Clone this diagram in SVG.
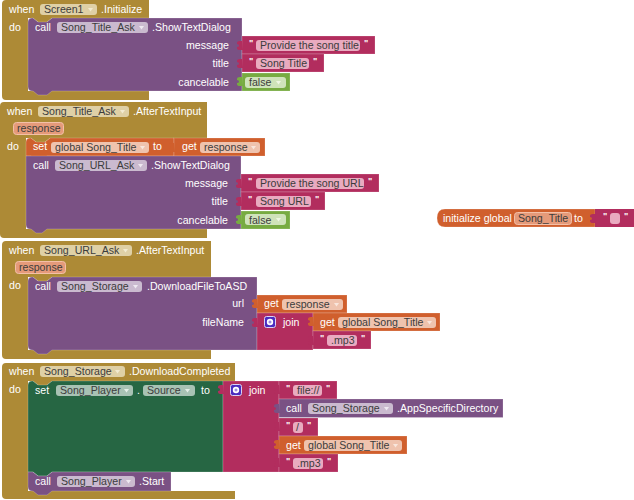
<svg xmlns="http://www.w3.org/2000/svg" width="634" height="500" viewBox="0 0 634 500">
<style>
text{font-family:"Liberation Sans",Arial,sans-serif;font-size:10.6px;fill:#fff}
.d{fill:#3c3c3c}
.g{fill:#ad8a36}.p{fill:#7a5184}.k{fill:#b22d5e}.o{fill:#d05f2d}.n{fill:#266643}.l{fill:#77ab41}
.b{stroke:#fff;stroke-opacity:.2;stroke-width:1}
.fg{fill:#dfd0a6}.fp{fill:#cabacf}.fk{fill:#e9abc0}.fo{fill:#efc3ae}.fn{fill:#a8c2b4}.fl{fill:#cfe3ba}
.fr{fill:#e59a7a;stroke:#f3c0a8;stroke-width:1}
.ag{fill:#f2ead0}.ap{fill:#eee8f0}.ao{fill:#f9e6dc}.an{fill:#e4eee8}.al{fill:#eef6e4}
.q{font-size:9px;font-weight:bold}
.r{text-anchor:end}
.ib{fill:#4a2cc0;stroke:#d9d2f5;stroke-width:1}
.ig{fill:#fff}
</style>
<defs>
<path id="tab" d="M0,0 L-2,0 Q-5,0 -5,2 L-5,3 Q-3,3 -3,4.500 Q-3,6 -5,6 L-5,7 Q-5,9 -2,9 L1,9 Z"/>
<path id="arrow" d="M0,0 H5 L2.500,3.500 Z"/>
<g id="mut"><rect class="ib" x="0.500" y="0.500" width="11" height="11" rx="2"/><circle class="ig" cx="6" cy="6" r="3.200"/><circle class="ib" cx="6" cy="6" r="1.300"/></g>
</defs>

<g id="event-screen1-initialize">
<path class="g" d="M2,4 Q2,0 6,0 H149 V18 H52 L47,22 H38 L33,18 H28 V91 H149 V100 H6 Q2,100 2,96 Z"/>
<text x="9" y="13">when</text>
<rect class="fg" x="40" y="4" width="57" height="11" rx="3"/><text class="d" x="44" y="13">Screen1</text><use href="#arrow" class="ag" x="88" y="8"/>
<text x="101" y="13">.Initialize</text>
<text x="9" y="31">do</text>
</g>
<g id="call-song-title-ask">
<path class="p b" d="M28,22 Q28,18 32,18 H33 L38,22 H47 L52,18 H242 V91 H52 L47,95 H38 L33,91 H32 Q28,91 28,87 Z"/>
<text x="35" y="31">call</text>
<rect class="fp" x="57" y="22" width="91" height="11" rx="3"/><text class="d" x="61" y="31">Song_Title_Ask</text><use href="#arrow" class="ap" x="139" y="26"/>
<text x="152" y="31">.ShowTextDialog</text>
<text class="r" x="229" y="49">message</text>
<text class="r" x="229" y="67">title</text>
<text class="r" x="229" y="86">cancelable</text>
</g>
<g id="text-provide-song-title">
<rect class="k b" x="242" y="36" width="133" height="18"/><use href="#tab" class="k" x="242" y="41"/>
<text class="q" x="249" y="46">"</text><rect class="fk" x="256" y="40" width="104" height="11" rx="3"/><text class="d" x="260" y="49">Provide the song title</text><text class="q" x="364" y="46">"</text>
</g>
<g id="text-song-title">
<rect class="k b" x="242" y="54" width="82" height="18"/><use href="#tab" class="k" x="242" y="59"/>
<text class="q" x="249" y="64">"</text><rect class="fk" x="256" y="58" width="53" height="11" rx="3"/><text class="d" x="260" y="67">Song Title</text><text class="q" x="313" y="64">"</text>
</g>
<g id="logic-false-1">
<rect class="l b" x="242" y="73" width="48" height="18"/><use href="#tab" class="l" x="242" y="77"/>
<rect class="fl" x="245" y="77" width="41" height="11" rx="3"/><text class="d" x="249" y="86">false</text><use href="#arrow" class="al" x="276" y="81"/>
</g>

<g id="event-song-title-ask-aftertextinput">
<path class="g" d="M0,106 Q0,102 4,102 H207 V138 H50 L45,142 H36 L31,138 H26 V229 H207 V238 H4 Q0,238 0,234 Z"/>
<text x="7" y="115">when</text>
<rect class="fg" x="38" y="106" width="91" height="11" rx="3"/><text class="d" x="42" y="115">Song_Title_Ask</text><use href="#arrow" class="ag" x="120" y="110"/>
<text x="133" y="115">.AfterTextInput</text>
<rect class="fr" x="13.500" y="122.500" width="50" height="12" rx="3"/><text class="d" x="17" y="132">response</text>
<text x="7" y="150">do</text>
</g>
<g id="set-global-song-title">
<path class="o b" d="M26,142 Q26,138 30,138 H31 L36,142 H45 L50,138 H174 V156 H47 L42,160 H36 L31,156 H26 Z"/>
<text x="33" y="150">set</text>
<rect class="fo" x="51" y="142" width="98" height="11" rx="3"/><text class="d" x="55" y="151">global Song_Title</text><use href="#arrow" class="ao" x="140" y="146"/>
<text x="153" y="150">to</text>
</g>
<g id="get-response-1">
<rect class="o b" x="174" y="138" width="91" height="18"/><use href="#tab" class="o" x="174" y="143"/>
<text x="182" y="150">get</text>
<rect class="fo" x="200" y="142" width="60" height="11" rx="3"/><text class="d" x="204" y="151">response</text><use href="#arrow" class="ao" x="251" y="146"/>
</g>
<g id="call-song-url-ask">
<path class="p b" d="M26,156 H241 V229 H47 L42,233 H36 L31,229 H30 Q26,229 26,225 Z"/>
<text x="33" y="169">call</text>
<rect class="fp" x="55" y="160" width="92" height="11" rx="3"/><text class="d" x="59" y="169">Song_URL_Ask</text><use href="#arrow" class="ap" x="138" y="164"/>
<text x="151" y="169">.ShowTextDialog</text>
<text class="r" x="228" y="187">message</text>
<text class="r" x="228" y="205">title</text>
<text class="r" x="228" y="224">cancelable</text>
</g>
<g id="text-provide-song-url">
<rect class="k b" x="241" y="174" width="138" height="18"/><use href="#tab" class="k" x="241" y="179"/>
<text class="q" x="248" y="184">"</text><rect class="fk" x="256" y="178" width="108" height="11" rx="3"/><text class="d" x="260" y="187">Provide the song URL</text><text class="q" x="368" y="184">"</text>
</g>
<g id="text-song-url">
<rect class="k b" x="241" y="192" width="84" height="18"/><use href="#tab" class="k" x="241" y="197"/>
<text class="q" x="248" y="202">"</text><rect class="fk" x="256" y="196" width="55" height="11" rx="3"/><text class="d" x="260" y="205">Song URL</text><text class="q" x="315" y="202">"</text>
</g>
<g id="logic-false-2">
<rect class="l b" x="241" y="211" width="49" height="18"/><use href="#tab" class="l" x="241" y="215"/>
<rect class="fl" x="245" y="214" width="41" height="11" rx="3"/><text class="d" x="249" y="224">false</text><use href="#arrow" class="al" x="276" y="218"/>
</g>

<g id="init-global-song-title">
<path class="o b" d="M445,209 H595 V227 H445 Q437,227 437,218 Q437,209 445,209 Z"/>
<text x="443" y="222">initialize global</text>
<rect class="fr" x="514.500" y="212.500" width="57" height="12" rx="3"/><text class="d" x="518" y="222">Song_Title</text>
<text x="574" y="222">to</text>
</g>
<g id="text-empty">
<rect class="k" x="595" y="209" width="39" height="18"/><use href="#tab" class="k" x="595" y="214"/>
<text class="q" x="603" y="219">"</text><rect class="fk" x="610" y="213" width="10" height="11" rx="3"/><text class="q" x="624" y="219">"</text>
</g>

<g id="event-song-url-ask-aftertextinput">
<path class="g" d="M2,245 Q2,241 6,241 H211 V277 H52 L47,281 H38 L33,277 H28 V350 H211 V359 H6 Q2,359 2,355 Z"/>
<text x="9" y="254">when</text>
<rect class="fg" x="40" y="245" width="92" height="11" rx="3"/><text class="d" x="44" y="254">Song_URL_Ask</text><use href="#arrow" class="ag" x="123" y="249"/>
<text x="136" y="254">.AfterTextInput</text>
<rect class="fr" x="15.500" y="261.500" width="50" height="12" rx="3"/><text class="d" x="19" y="271">response</text>
<text x="9" y="289">do</text>
</g>
<g id="call-download-file">
<path class="p b" d="M28,281 Q28,277 32,277 H33 L38,281 H47 L52,277 H257 V350 H52 L47,354 H38 L33,350 H32 Q28,350 28,346 Z"/>
<text x="35" y="290">call</text>
<rect class="fp" x="57" y="281" width="85" height="11" rx="3"/><text class="d" x="61" y="290">Song_Storage</text><use href="#arrow" class="ap" x="133" y="285"/>
<text x="147" y="290">.DownloadFileToASD</text>
<text class="r" x="244" y="307">url</text>
<text class="r" x="244" y="326">fileName</text>
</g>
<g id="get-response-2">
<rect class="o b" x="257" y="295" width="90" height="18"/><use href="#tab" class="o" x="257" y="299"/>
<text x="264" y="307">get</text>
<rect class="fo" x="282" y="299" width="61" height="11" rx="3"/><text class="d" x="286" y="308">response</text><use href="#arrow" class="ao" x="334" y="303"/>
</g>
<g id="join-file-name">
<rect class="k b" x="257" y="313" width="56" height="37"/><use href="#tab" class="k" x="257" y="318"/>
<use href="#mut" x="264" y="316"/>
<text x="283" y="326">join</text>
</g>
<g id="get-global-song-title-1">
<rect class="o b" x="313" y="313" width="127" height="18"/><use href="#tab" class="o" x="313" y="317"/>
<text x="320" y="326">get</text>
<rect class="fo" x="338" y="317" width="98" height="11" rx="3"/><text class="d" x="342" y="326">global Song_Title</text><use href="#arrow" class="ao" x="427" y="321"/>
</g>
<g id="text-mp3-1">
<rect class="k b" x="313" y="331" width="58" height="18"/><use href="#tab" class="k" x="313" y="336"/>
<text class="q" x="320" y="341">"</text><rect class="fk" x="327" y="335" width="30" height="11" rx="3"/><text class="d" x="331" y="344">.mp3</text><text class="q" x="361" y="341">"</text>
</g>

<g id="event-download-completed">
<path class="g" d="M2,367 Q2,363 6,363 H235 V381 H52 L47,385 H38 L33,381 H28 V491 H235 V499 H6 Q2,499 2,495 Z"/>
<text x="9" y="375">when</text>
<rect class="fg" x="40" y="366" width="85" height="11" rx="3"/><text class="d" x="44" y="375">Song_Storage</text><use href="#arrow" class="ag" x="115" y="370"/>
<text x="129" y="375">.DownloadCompleted</text>
<text x="9" y="393">do</text>
</g>
<g id="set-player-source">
<path class="n b" d="M28,385 Q28,381 32,381 H33 L38,385 H47 L52,381 H223 V472 H52 L47,476 H38 L33,472 H28 Z"/>
<text x="35" y="394">set</text>
<rect class="fn" x="56" y="385" width="77" height="11" rx="3"/><text class="d" x="60" y="394">Song_Player</text><use href="#arrow" class="an" x="124" y="389"/>
<text x="137" y="394">.</text>
<rect class="fn" x="143" y="385" width="52" height="11" rx="3"/><text class="d" x="147" y="394">Source</text><use href="#arrow" class="an" x="185" y="389"/>
<text x="201" y="394">to</text>
</g>
<g id="join-source">
<rect class="k b" x="223" y="381" width="56" height="91"/><use href="#tab" class="k" x="223" y="385"/>
<use href="#mut" x="230" y="384"/>
<text x="249" y="394">join</text>
</g>
<g id="text-file-scheme">
<rect class="k b" x="279" y="381" width="58" height="18"/><use href="#tab" class="k" x="279" y="385"/>
<text class="q" x="286" y="391">"</text><rect class="fk" x="293" y="385" width="29" height="11" rx="3"/><text class="d" x="297" y="394">file://</text><text class="q" x="326" y="391">"</text>
</g>
<g id="call-app-specific-directory">
<rect class="p b" x="279" y="399" width="224" height="18.500"/><use href="#tab" class="p" x="279" y="404"/>
<text x="286" y="412">call</text>
<rect class="fp" x="308" y="403" width="85" height="11" rx="3"/><text class="d" x="312" y="412">Song_Storage</text><use href="#arrow" class="ap" x="384" y="407"/>
<text x="397" y="412">.AppSpecificDirectory</text>
</g>
<g id="text-slash">
<rect class="k b" x="279" y="418" width="39" height="18"/><use href="#tab" class="k" x="279" y="422"/>
<text class="q" x="286" y="428">"</text><rect class="fk" x="293" y="422" width="10" height="11" rx="3"/><text class="d" x="296" y="431">/</text><text class="q" x="307" y="428">"</text>
</g>
<g id="get-global-song-title-2">
<rect class="o b" x="279" y="436" width="128" height="18"/><use href="#tab" class="o" x="279" y="440"/>
<text x="286" y="449">get</text>
<rect class="fo" x="304" y="440" width="98" height="11" rx="3"/><text class="d" x="308" y="449">global Song_Title</text><use href="#arrow" class="ao" x="393" y="444"/>
</g>
<g id="text-mp3-2">
<rect class="k b" x="279" y="454" width="59" height="18"/><use href="#tab" class="k" x="279" y="458"/>
<text class="q" x="286" y="464">"</text><rect class="fk" x="293" y="458" width="30" height="11" rx="3"/><text class="d" x="297" y="467">.mp3</text><text class="q" x="327" y="464">"</text>
</g>
<g id="call-player-start">
<path class="p b" d="M28,472 H33 L38,476 H47 L52,472 H171 V491 H52 L47,495 H38 L33,491 H32 Q28,491 28,487 Z"/>
<text x="35" y="485">call</text>
<rect class="fp" x="57" y="476" width="78" height="11" rx="3"/><text class="d" x="61" y="485">Song_Player</text><use href="#arrow" class="ap" x="126" y="480"/>
<text x="139" y="485">.Start</text>
</g>
</svg>
